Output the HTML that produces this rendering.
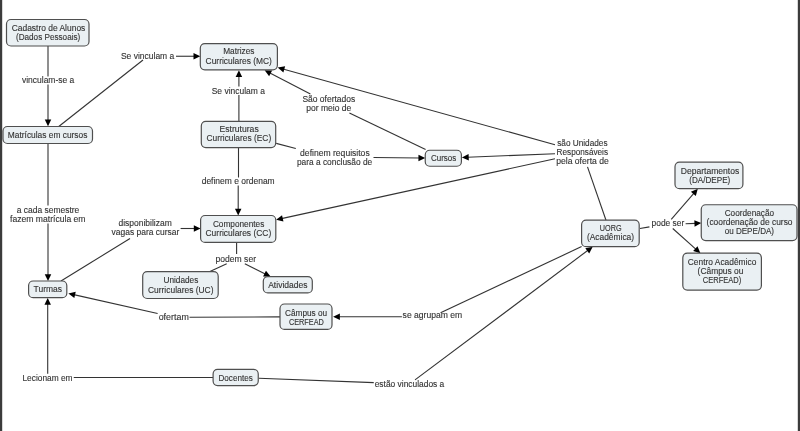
<!DOCTYPE html><html><head><meta charset="utf-8"><style>html,body{margin:0;padding:0;background:#fff;width:800px;height:431px;overflow:hidden}svg{display:block;will-change:transform}</style></head><body>
<svg width="800" height="431" viewBox="0 0 800 431">
<rect x="0" y="0" width="800" height="431" fill="#fff"/>
<line x1="48.00" y1="46.00" x2="48.00" y2="76.50" stroke="#333" stroke-width="1.1"/>
<line x1="48.00" y1="84.50" x2="48.00" y2="120.86" stroke="#333" stroke-width="1.1"/>
<polygon points="48.00,126.30 44.75,119.50 51.25,119.50" fill="#000"/>
<line x1="58.75" y1="126.50" x2="143.00" y2="60.00" stroke="#333" stroke-width="1.1"/>
<line x1="176.00" y1="56.25" x2="194.86" y2="56.25" stroke="#333" stroke-width="1.1"/>
<polygon points="200.30,56.25 193.50,59.50 193.50,53.00" fill="#000"/>
<line x1="48.00" y1="143.50" x2="48.00" y2="205.50" stroke="#333" stroke-width="1.1"/>
<line x1="48.00" y1="223.50" x2="48.00" y2="275.56" stroke="#333" stroke-width="1.1"/>
<polygon points="48.00,281.00 44.75,274.20 51.25,274.20" fill="#000"/>
<line x1="61.00" y1="281.00" x2="130.00" y2="238.50" stroke="#333" stroke-width="1.1"/>
<line x1="180.60" y1="228.50" x2="195.16" y2="228.50" stroke="#333" stroke-width="1.1"/>
<polygon points="200.60,228.50 193.80,231.75 193.80,225.25" fill="#000"/>
<line x1="47.70" y1="373.75" x2="47.70" y2="303.34" stroke="#333" stroke-width="1.1"/>
<polygon points="47.70,297.90 50.95,304.70 44.45,304.70" fill="#000"/>
<line x1="73.75" y1="377.50" x2="213.10" y2="377.50" stroke="#333" stroke-width="1.1"/>
<line x1="258.75" y1="378.20" x2="373.75" y2="382.60" stroke="#333" stroke-width="1.1"/>
<line x1="415.00" y1="379.90" x2="588.35" y2="249.96" stroke="#333" stroke-width="1.1"/>
<polygon points="592.70,246.70 589.21,253.38 585.31,248.18" fill="#000"/>
<line x1="581.60" y1="246.60" x2="440.60" y2="312.70" stroke="#333" stroke-width="1.1"/>
<line x1="401.90" y1="316.80" x2="338.54" y2="316.80" stroke="#333" stroke-width="1.1"/>
<polygon points="333.10,316.80 339.90,313.55 339.90,320.05" fill="#000"/>
<line x1="280.00" y1="316.90" x2="189.50" y2="317.30" stroke="#333" stroke-width="1.1"/>
<line x1="157.60" y1="313.50" x2="73.71" y2="294.60" stroke="#333" stroke-width="1.1"/>
<polygon points="68.40,293.40 75.75,291.72 74.32,298.07" fill="#000"/>
<line x1="238.90" y1="121.40" x2="238.90" y2="95.00" stroke="#333" stroke-width="1.1"/>
<line x1="238.90" y1="86.50" x2="238.90" y2="75.74" stroke="#333" stroke-width="1.1"/>
<polygon points="238.90,70.30 242.15,77.10 235.65,77.10" fill="#000"/>
<line x1="238.50" y1="147.60" x2="238.50" y2="177.50" stroke="#333" stroke-width="1.1"/>
<line x1="238.20" y1="185.50" x2="238.20" y2="210.06" stroke="#333" stroke-width="1.1"/>
<polygon points="238.20,215.50 234.95,208.70 241.45,208.70" fill="#000"/>
<line x1="276.20" y1="143.40" x2="295.80" y2="148.50" stroke="#333" stroke-width="1.1"/>
<line x1="373.50" y1="157.50" x2="419.81" y2="157.95" stroke="#333" stroke-width="1.1"/>
<polygon points="425.25,158.00 418.42,161.18 418.48,154.68" fill="#000"/>
<line x1="425.60" y1="149.40" x2="349.40" y2="112.90" stroke="#333" stroke-width="1.1"/>
<line x1="310.40" y1="94.10" x2="269.43" y2="72.81" stroke="#333" stroke-width="1.1"/>
<polygon points="264.60,70.30 272.13,70.55 269.14,76.32" fill="#000"/>
<line x1="555.00" y1="144.75" x2="282.94" y2="68.96" stroke="#333" stroke-width="1.1"/>
<polygon points="277.70,67.50 285.12,66.19 283.38,72.46" fill="#000"/>
<line x1="555.00" y1="153.75" x2="467.34" y2="157.28" stroke="#333" stroke-width="1.1"/>
<polygon points="461.90,157.50 468.56,153.98 468.83,160.47" fill="#000"/>
<line x1="555.00" y1="158.75" x2="281.41" y2="218.64" stroke="#333" stroke-width="1.1"/>
<polygon points="276.10,219.80 282.05,215.17 283.44,221.52" fill="#000"/>
<line x1="587.50" y1="166.90" x2="606.00" y2="220.20" stroke="#333" stroke-width="1.1"/>
<line x1="640.00" y1="228.50" x2="649.40" y2="226.90" stroke="#333" stroke-width="1.1"/>
<line x1="671.25" y1="219.40" x2="694.24" y2="192.81" stroke="#333" stroke-width="1.1"/>
<polygon points="697.80,188.70 695.81,195.97 690.89,191.72" fill="#000"/>
<line x1="685.60" y1="223.75" x2="695.81" y2="223.33" stroke="#333" stroke-width="1.1"/>
<polygon points="701.25,223.10 694.59,226.63 694.32,220.13" fill="#000"/>
<line x1="672.75" y1="228.50" x2="696.34" y2="249.58" stroke="#333" stroke-width="1.1"/>
<polygon points="700.40,253.20 693.16,251.09 697.49,246.25" fill="#000"/>
<line x1="236.60" y1="242.40" x2="236.60" y2="253.90" stroke="#333" stroke-width="1.1"/>
<line x1="226.70" y1="263.70" x2="209.40" y2="271.70" stroke="#333" stroke-width="1.1"/>
<line x1="244.80" y1="263.70" x2="265.73" y2="274.17" stroke="#333" stroke-width="1.1"/>
<polygon points="270.60,276.60 263.06,276.47 265.97,270.65" fill="#000"/>
<rect x="6.50" y="19.50" width="82.50" height="26.50" rx="4.5" ry="4.5" fill="#eaf0f3" stroke="#4f4f4f" stroke-width="1.2"/>
<rect x="3.00" y="126.50" width="89.50" height="17.00" rx="4.5" ry="4.5" fill="#eaf0f3" stroke="#4f4f4f" stroke-width="1.2"/>
<rect x="28.60" y="281.00" width="38.20" height="16.70" rx="4.5" ry="4.5" fill="#eaf0f3" stroke="#4f4f4f" stroke-width="1.2"/>
<rect x="200.30" y="43.60" width="77.10" height="26.20" rx="4.5" ry="4.5" fill="#eaf0f3" stroke="#4f4f4f" stroke-width="1.2"/>
<rect x="201.30" y="121.40" width="74.40" height="26.20" rx="4.5" ry="4.5" fill="#eaf0f3" stroke="#4f4f4f" stroke-width="1.2"/>
<rect x="200.60" y="215.50" width="75.20" height="26.90" rx="4.5" ry="4.5" fill="#eaf0f3" stroke="#4f4f4f" stroke-width="1.2"/>
<rect x="142.70" y="271.70" width="75.50" height="26.80" rx="4.5" ry="4.5" fill="#eaf0f3" stroke="#4f4f4f" stroke-width="1.2"/>
<rect x="263.30" y="276.60" width="49.00" height="16.30" rx="4.5" ry="4.5" fill="#eaf0f3" stroke="#4f4f4f" stroke-width="1.2"/>
<rect x="280.00" y="304.00" width="52.00" height="25.40" rx="4.5" ry="4.5" fill="#eaf0f3" stroke="#4f4f4f" stroke-width="1.2"/>
<rect x="213.10" y="369.40" width="45.15" height="16.20" rx="4.5" ry="4.5" fill="#eaf0f3" stroke="#4f4f4f" stroke-width="1.2"/>
<rect x="425.25" y="150.25" width="36.15" height="16.00" rx="4.5" ry="4.5" fill="#eaf0f3" stroke="#4f4f4f" stroke-width="1.2"/>
<rect x="581.60" y="220.20" width="57.60" height="26.50" rx="4.5" ry="4.5" fill="#eaf0f3" stroke="#4f4f4f" stroke-width="1.2"/>
<rect x="675.00" y="162.20" width="67.90" height="26.50" rx="4.5" ry="4.5" fill="#eaf0f3" stroke="#4f4f4f" stroke-width="1.2"/>
<rect x="701.25" y="204.75" width="95.75" height="35.85" rx="4.5" ry="4.5" fill="#eaf0f3" stroke="#4f4f4f" stroke-width="1.2"/>
<rect x="682.80" y="253.20" width="78.60" height="36.90" rx="4.5" ry="4.5" fill="#eaf0f3" stroke="#4f4f4f" stroke-width="1.2"/>
<g font-family="Liberation Sans, sans-serif" font-size="8.3" fill="#333" stroke="#333" stroke-width="0.12">
<text x="11.70" y="30.60" textLength="73.60" lengthAdjust="spacingAndGlyphs">Cadastro de Alunos</text>
<text x="15.95" y="39.90" textLength="64.35" lengthAdjust="spacingAndGlyphs">(Dados Pessoais)</text>
<text x="7.80" y="138.10" textLength="79.60" lengthAdjust="spacingAndGlyphs">Matrículas em cursos</text>
<text x="33.60" y="292.40" textLength="28.40" lengthAdjust="spacingAndGlyphs">Turmas</text>
<text x="223.20" y="54.40" textLength="31.30" lengthAdjust="spacingAndGlyphs">Matrizes</text>
<text x="205.60" y="63.80" textLength="66.30" lengthAdjust="spacingAndGlyphs">Curriculares (MC)</text>
<text x="219.50" y="132.00" textLength="39.20" lengthAdjust="spacingAndGlyphs">Estruturas</text>
<text x="206.50" y="140.90" textLength="64.70" lengthAdjust="spacingAndGlyphs">Curriculares (EC)</text>
<text x="212.90" y="226.60" textLength="51.40" lengthAdjust="spacingAndGlyphs">Componentes</text>
<text x="205.50" y="235.90" textLength="65.80" lengthAdjust="spacingAndGlyphs">Curriculares (CC)</text>
<text x="163.50" y="283.40" textLength="34.80" lengthAdjust="spacingAndGlyphs">Unidades</text>
<text x="148.00" y="292.80" textLength="65.50" lengthAdjust="spacingAndGlyphs">Curriculares (UC)</text>
<text x="268.20" y="287.60" textLength="39.30" lengthAdjust="spacingAndGlyphs">Atividades</text>
<text x="284.95" y="315.60" textLength="42.25" lengthAdjust="spacingAndGlyphs">Câmpus ou</text>
<text x="288.90" y="325.00" textLength="35.00" lengthAdjust="spacingAndGlyphs">CERFEAD</text>
<text x="218.45" y="380.60" textLength="34.35" lengthAdjust="spacingAndGlyphs">Docentes</text>
<text x="430.95" y="160.60" textLength="25.35" lengthAdjust="spacingAndGlyphs">Cursos</text>
<text x="599.80" y="230.90" textLength="21.80" lengthAdjust="spacingAndGlyphs">UORG</text>
<text x="586.90" y="239.70" textLength="47.20" lengthAdjust="spacingAndGlyphs">(Acadêmica)</text>
<text x="680.70" y="173.60" textLength="58.60" lengthAdjust="spacingAndGlyphs">Departamentos</text>
<text x="689.20" y="182.50" textLength="41.10" lengthAdjust="spacingAndGlyphs">(DA/DEPE)</text>
<text x="724.70" y="215.60" textLength="49.35" lengthAdjust="spacingAndGlyphs">Coordenação</text>
<text x="706.60" y="224.60" textLength="85.95" lengthAdjust="spacingAndGlyphs">(coordenação de curso</text>
<text x="724.70" y="233.75" textLength="49.35" lengthAdjust="spacingAndGlyphs">ou DEPE/DA)</text>
<text x="687.80" y="265.00" textLength="68.50" lengthAdjust="spacingAndGlyphs">Centro Acadêmico</text>
<text x="697.60" y="274.10" textLength="45.80" lengthAdjust="spacingAndGlyphs">(Câmpus ou</text>
<text x="702.80" y="282.90" textLength="38.50" lengthAdjust="spacingAndGlyphs">CERFEAD)</text>
<text x="21.95" y="83.00" textLength="52.35" lengthAdjust="spacingAndGlyphs">vinculam-se a</text>
<text x="120.95" y="59.00" textLength="53.35" lengthAdjust="spacingAndGlyphs">Se vinculam a</text>
<text x="211.70" y="93.70" textLength="53.20" lengthAdjust="spacingAndGlyphs">Se vinculam a</text>
<text x="302.40" y="101.80" textLength="52.90" lengthAdjust="spacingAndGlyphs">São ofertados</text>
<text x="306.20" y="110.80" textLength="45.10" lengthAdjust="spacingAndGlyphs">por meio de</text>
<text x="300.10" y="155.60" textLength="69.60" lengthAdjust="spacingAndGlyphs">definem requisitos</text>
<text x="296.90" y="164.60" textLength="75.30" lengthAdjust="spacingAndGlyphs">para a conclusão de</text>
<text x="201.70" y="184.30" textLength="73.00" lengthAdjust="spacingAndGlyphs">definem e ordenam</text>
<text x="16.70" y="213.00" textLength="62.60" lengthAdjust="spacingAndGlyphs">a cada semestre</text>
<text x="10.10" y="222.00" textLength="75.40" lengthAdjust="spacingAndGlyphs">fazem matrícula em</text>
<text x="118.45" y="226.00" textLength="53.35" lengthAdjust="spacingAndGlyphs">disponibilizam</text>
<text x="111.60" y="234.75" textLength="67.70" lengthAdjust="spacingAndGlyphs">vagas para cursar</text>
<text x="215.55" y="261.60" textLength="40.45" lengthAdjust="spacingAndGlyphs">podem ser</text>
<text x="158.70" y="319.70" textLength="30.10" lengthAdjust="spacingAndGlyphs">ofertam</text>
<text x="402.60" y="317.75" textLength="59.60" lengthAdjust="spacingAndGlyphs">se agrupam em</text>
<text x="22.45" y="380.60" textLength="50.10" lengthAdjust="spacingAndGlyphs">Lecionam em</text>
<text x="374.70" y="386.80" textLength="69.60" lengthAdjust="spacingAndGlyphs">estão vinculados a</text>
<text x="557.20" y="145.60" textLength="50.35" lengthAdjust="spacingAndGlyphs">são Unidades</text>
<text x="556.60" y="154.75" textLength="51.45" lengthAdjust="spacingAndGlyphs">Responsáveis</text>
<text x="556.20" y="163.60" textLength="52.60" lengthAdjust="spacingAndGlyphs">pela oferta de</text>
<text x="651.60" y="225.60" textLength="32.70" lengthAdjust="spacingAndGlyphs">pode ser</text>
</g>
<rect x="0" y="0" width="2.2" height="431" fill="#3c3c3c"/>
<rect x="797.8" y="0" width="2.2" height="431" fill="#3c3c3c"/>
</svg></body></html>
